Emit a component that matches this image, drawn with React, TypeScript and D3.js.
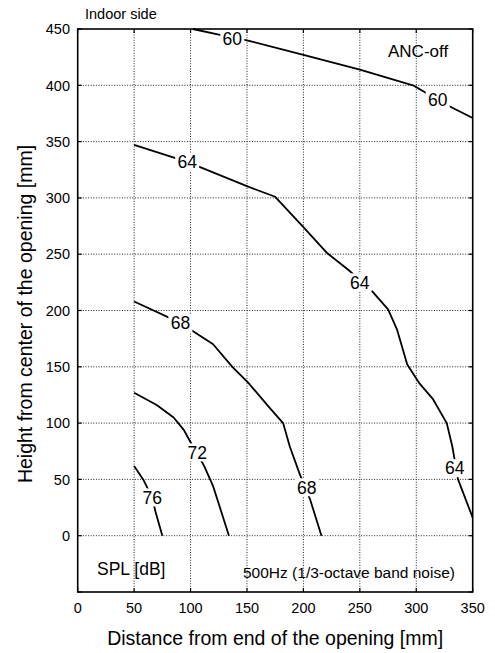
import React, { useEffect, useRef } from 'react';
import * as d3 from 'd3';

// contour lines, [distance mm, height mm]
const CONTOUR_60 = [[102, 450], [125, 445], [150, 440], [200, 427], [250, 414], [297, 400], [328, 382], [350, 371]];
const CONTOUR_64 = [[50, 347], [97, 332], [151, 310], [175, 301], [188, 287], [200, 274], [221, 251], [240, 236],
    [261, 217], [275, 201], [283, 183], [292, 152], [303, 135], [315, 121], [327, 100], [332, 79], [337, 50], [350, 16]];
const CONTOUR_68 = [[50, 208], [91, 189], [120, 170], [137, 150], [151, 136], [168, 116], [182, 100], [188, 79],
    [197, 54], [206, 32], [216, 0]];
const CONTOUR_72 = [[50, 127], [70, 116], [85, 105], [94, 94], [100, 83], [112, 62], [120, 44], [134, 0]];
const CONTOUR_76 = [[50, 62], [58, 50], [66, 34], [69, 21], [75, 0]];

const CONTOURS = [CONTOUR_60, CONTOUR_64, CONTOUR_68, CONTOUR_72, CONTOUR_76];

// contour value labels: [x, y, text]
const LEVEL_LABELS = [
    [137, 441, '60'], [319, 387, '60'],
    [97, 332, '64'], [250, 225, '64'], [334, 60, '64'],
    [91, 189, '68'], [203, 43, '68'],
    [106, 74, '72'],
    [66, 34, '76'],
];

const X_TICKS = [0, 50, 100, 150, 200, 250, 300, 350];
const Y_TICKS = [0, 50, 100, 150, 200, 250, 300, 350, 400, 450];
const X_GRID = [50, 100, 150, 200, 250, 300];
const Y_GRID = [0, 50, 100, 150, 200, 250, 300, 350, 400];

const FONT = '"Liberation Sans", Arial, Helvetica, sans-serif';

export default function App()
{
    const svgRef = useRef(null);
    const width = 495;
    const height = 653;

    useEffect(() =>
    {
        const svg = d3.select(svgRef.current);
        svg.selectAll('*').remove();

        const x = d3.scaleLinear().domain([0, 350]).range([77.7, 472.7]);
        const y = d3.scaleLinear().domain([-50, 450]).range([592, 29]);

        const g = svg.append('g').attr('font-family', FONT);

        // dotted grid
        g.selectAll('.vgrid').data(X_GRID).join('line')
            .attr('x1', (d) => x(d)).attr('x2', (d) => x(d))
            .attr('y1', y(-50)).attr('y2', y(450))
            .attr('stroke', '#222').attr('stroke-width', 1).attr('stroke-dasharray', '1,1.6');
        g.selectAll('.hgrid').data(Y_GRID).join('line')
            .attr('x1', x(0)).attr('x2', x(350))
            .attr('y1', (d) => y(d)).attr('y2', (d) => y(d))
            .attr('stroke', '#222').attr('stroke-width', 1).attr('stroke-dasharray', '1,1.6');

        // inward ticks
        const tick = 4;
        X_TICKS.forEach((t) =>
        {
            g.append('line').attr('x1', x(t)).attr('x2', x(t)).attr('y1', y(-50)).attr('y2', y(-50) - tick)
                .attr('stroke', '#000').attr('stroke-width', 1.2);
            g.append('line').attr('x1', x(t)).attr('x2', x(t)).attr('y1', y(450)).attr('y2', y(450) + tick)
                .attr('stroke', '#000').attr('stroke-width', 1.2);
        });
        [-50, ...Y_TICKS].forEach((t) =>
        {
            g.append('line').attr('x1', x(0)).attr('x2', x(0) + tick).attr('y1', y(t)).attr('y2', y(t))
                .attr('stroke', '#000').attr('stroke-width', 1.2);
            g.append('line').attr('x1', x(350)).attr('x2', x(350) - tick).attr('y1', y(t)).attr('y2', y(t))
                .attr('stroke', '#000').attr('stroke-width', 1.2);
        });

        // frame
        g.append('rect')
            .attr('x', x(0)).attr('y', y(450))
            .attr('width', x(350) - x(0)).attr('height', y(-50) - y(450))
            .attr('fill', 'none').attr('stroke', '#000').attr('stroke-width', 1.6);

        // tick labels
        g.selectAll('.xlab').data(X_TICKS).join('text')
            .attr('x', (d) => x(d)).attr('y', 613)
            .attr('text-anchor', 'middle').attr('font-size', 14.5)
            .text((d) => d);
        g.selectAll('.ylab').data(Y_TICKS).join('text')
            .attr('x', 70).attr('y', (d) => y(d)).attr('dy', '0.36em')
            .attr('text-anchor', 'end').attr('font-size', 14.5)
            .text((d) => d);

        // contour lines
        const line = d3.line().x((d) => x(d[0])).y((d) => y(d[1]));
        g.selectAll('.contour').data(CONTOURS).join('path')
            .attr('d', line)
            .attr('fill', 'none').attr('stroke', '#000').attr('stroke-width', 1.8)
            .attr('stroke-linejoin', 'round');

        // level labels with a white gap behind
        const labels = g.selectAll('.lvl').data(LEVEL_LABELS).join('g')
            .attr('transform', (d) => `translate(${ x(d[0]) },${ y(d[1]) })`);
        labels.append('rect')
            .attr('x', -12).attr('y', -9).attr('width', 24).attr('height', 18)
            .attr('fill', '#fff');
        labels.append('text')
            .attr('text-anchor', 'middle').attr('dy', '0.36em').attr('font-size', 17.5)
            .text((d) => d[2]);

        // annotations
        g.append('text').attr('x', 85).attr('y', 19).attr('font-size', 14.5).text('Indoor side');
        g.append('text').attr('x', 388).attr('y', 57).attr('font-size', 17).text('ANC-off');
        g.append('text').attr('x', 97).attr('y', 575).attr('font-size', 17.5).text('SPL [dB]');
        g.append('text').attr('x', 243).attr('y', 578).attr('font-size', 15.5).text('500Hz (1/3-octave band noise)');

        // axis titles
        g.append('text')
            .attr('x', (x(0) + x(350)) / 2).attr('y', 645)
            .attr('text-anchor', 'middle').attr('font-size', 19.5)
            .text('Distance from end of the opening [mm]');
        g.append('text')
            .attr('transform', `translate(32,314) rotate(-90)`)
            .attr('text-anchor', 'middle').attr('font-size', 19.5)
            .text('Height from center of the opening [mm]');
    }, []);

    return (
        <svg
            ref={ svgRef }
            width={ width }
            height={ height }
            style={ { position: 'absolute', left: 0, top: 0, background: '#fff' } }
        />
    );
}
